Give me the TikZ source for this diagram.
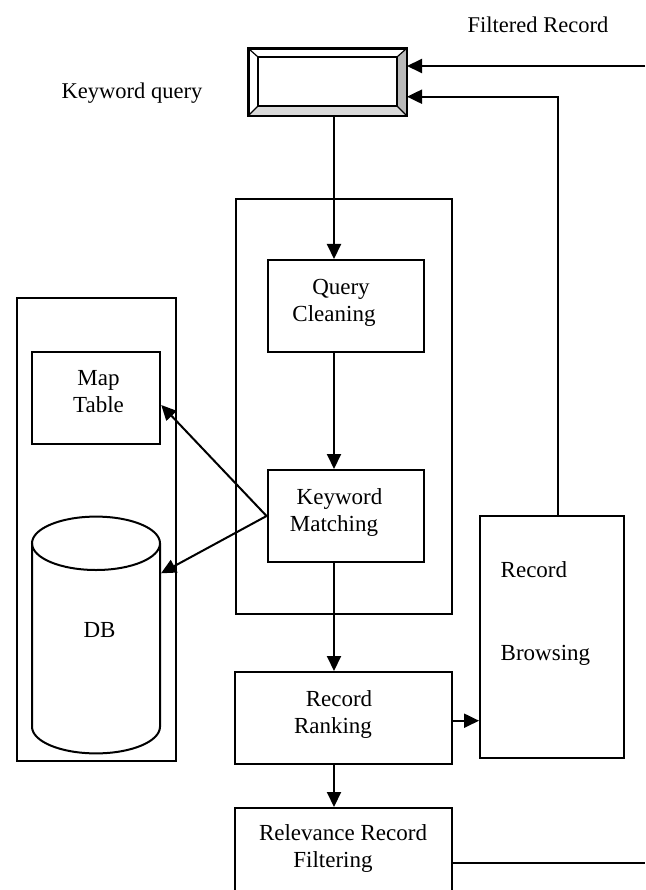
\documentclass[tikz,border=0pt]{standalone}
\usepackage{fontspec}
\setmainfont{Liberation Serif}
\usetikzlibrary{arrows.meta}
\begin{document}
\begin{tikzpicture}[x=1pt,y=-1pt,
  box/.style={draw, line width=2pt, rectangle, inner sep=0pt},
  txt/.style={inner sep=0pt, align=center, font=\fontsize{23}{27}\selectfont},
  arr/.style={line width=2pt, -{Triangle[length=15pt,width=14pt]}},
  ln/.style={line width=2pt},
  lbl/.style={font=\fontsize{22.5}{27}\selectfont, inner sep=0pt}]
\useasboundingbox (0,0) rectangle (645,890);
\clip (0,0) rectangle (645,890);
% containers
\node[box, minimum width=216pt, minimum height=415pt] (mid) at (343.7,406.5) {};
\node[box, minimum width=158.5pt, minimum height=463pt] (left) at (96.5,529.7) {};
% keyword query bevel box
\node[draw, line width=2pt, minimum width=157pt, minimum height=66pt, inner sep=0pt] (kq) at (327.5,82) {};
\fill[gray!55] (406,49) -- (397,57) -- (397,106) -- (406,115) -- cycle;
\fill[gray!30] (249,115) -- (258,106) -- (397,106) -- (406,115) -- cycle;
\draw[line width=2pt] (kq.north west) rectangle (kq.south east);
\draw[line width=1.2pt] (258,57) rectangle (397,106);
\draw[line width=1.2pt] (249,49) -- (258,57) (406,49) -- (397,57) (249,115) -- (258,106) (406,115) -- (397,106);
% boxes
\node[box, minimum width=156.5pt, minimum height=92pt] (qc) at (345.8,306) {};
\node[txt] (qct) at (334,303) {\hspace*{14pt}Query\\Cleaning};
\node[box, minimum width=156.5pt, minimum height=92pt] (km) at (345.8,516) {};
\node[txt] (kmt) at (334,512) {\hspace*{11pt}Keyword\\Matching};
\node[box, minimum width=128.5pt, minimum height=92.5pt] (map) at (96,398) {};
\node[txt] (mapt) at (98.5,392) {Map\\Table};
\node[box, minimum width=143.5pt, minimum height=242.5pt] (rb) at (551.8,637) {};
\node[txt, anchor=base west] (rbt1) at (500.5,577) {Record};
\node[txt, anchor=base west] (rbt2) at (500.5,660) {Browsing};
\node[box, minimum width=216.5pt, minimum height=92pt] (rr) at (343.7,718) {};
\node[txt] (rrt) at (333,714) {\hspace*{12pt}Record\\Ranking};
\node[box, minimum width=216.5pt, minimum height=110pt] (rrf) at (343.7,863) {};
\node[txt] (rrft) at (343,848) {Relevance Record\\Filtering\hspace*{20pt}};
% database cylinder
\draw[ln] (32,543.3) -- (32,726.7) arc[start angle=180, end angle=0, x radius=64, y radius=26.7] -- (160,543.3);
\draw[ln] (96,543.3) ellipse [x radius=64, y radius=26.7];
\node[txt] (db) at (99.5,630) {DB};
\coordinate (dbR) at (161,573.3);
% labels
\node[lbl] (fr) at (538,25) {Filtered Record};
\node[lbl] (kql) at (132,93) {Keyword query};
% helper coordinates
\coordinate (vx) at (334,0);
\coordinate (frR) at (645,66);
\coordinate (rbx) at (558.3,96.7);
\coordinate (rrfR) at (645,862.7);
% connectors
\draw[arr] (kq.south -| vx) -- (qc.north -| vx);
\draw[arr] (qc.south -| vx) -- (km.north -| vx);
\draw[arr] (km.south -| vx) -- (rr.north -| vx);
\draw[arr] (rr.south -| vx) -- (rrf.north -| vx);
\draw[arr] (rr.east |- 0,720.7) -- (rb.west |- 0,720.7);
\draw[arr] (km.west) -- (map.east |- 0,405);
\draw[arr] (km.west) -- (dbR);
\draw[arr] (frR) -- (kq.east |- frR);
\draw[arr] (rb.north -| rbx) -- (rbx) -- (kq.east |- rbx);
\draw[ln] (rrf.east |- rrfR) -- (rrfR);
\end{tikzpicture}
\end{document}
